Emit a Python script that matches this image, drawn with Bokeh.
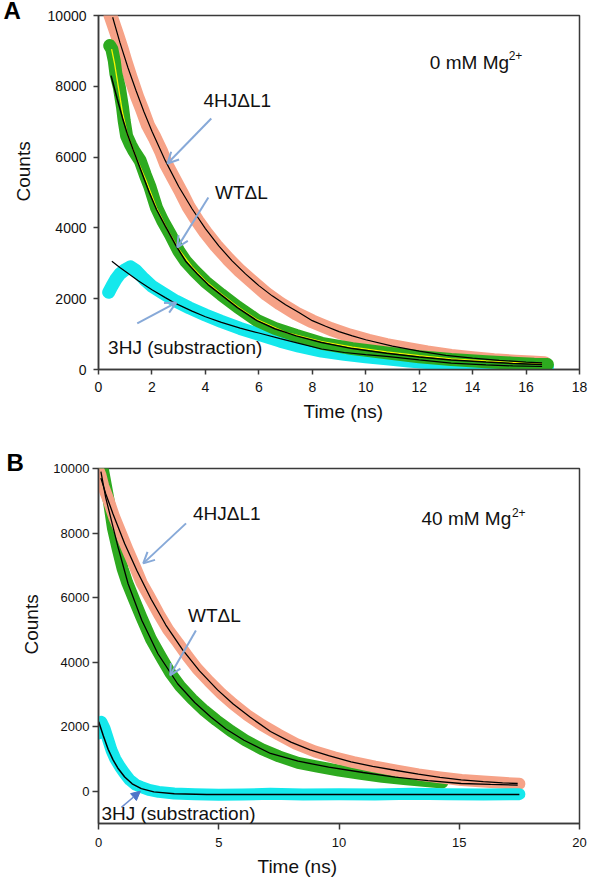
from bokeh.plotting import figure
from bokeh.models import Range1d, Label, Arrow, OpenHead, NormalHead, FixedTicker, Title
from bokeh.layouts import column
from bokeh.embed import file_html
from bokeh.resources import INLINE

FONT = "Liberation Sans"

# ---------------- Panel A (0 mM Mg2+) ----------------
a_4hj_t = [0.45, 0.55, 0.7, 0.85, 1.0, 1.2, 1.45, 1.63, 1.85, 2.1, 2.35, 2.53, 2.8, 3.1, 3.38, 3.7,
           4.0, 4.4, 4.84, 5.3, 5.8, 6.29, 6.8, 7.4, 8.0, 8.7, 9.4, 10.1, 10.78, 11.5, 12.3, 13.2,
           14.0, 14.8, 15.6, 16.2, 16.7]
a_4hj_c = [10000, 9780, 9450, 9100, 8720, 8250, 7700, 7350, 6900, 6550, 6150, 5800, 5420, 5000, 4580, 4200,
           3880, 3500, 3130, 2780, 2450, 2130, 1860, 1580, 1360, 1140, 960, 810, 690, 590, 480, 380,
           320, 260, 220, 200, 180]
a_4hj_fit_t = [0.53, 0.8, 1.1, 1.4, 1.7, 2.0, 2.5, 3.0, 3.5, 4.0, 4.5, 5.0, 5.5, 6.0, 6.5, 7.0, 7.5,
               8.0, 8.5, 9.0, 9.5, 10.0, 11.0, 12.0, 13.0, 14.0, 15.0, 16.0, 16.6]
a_4hj_fit_c = [9950, 9240, 8530, 7890, 7280, 6730, 5900, 5170, 4540, 3980, 3490, 3070, 2700, 2370, 2080, 1830, 1610,
               1380, 1220, 1070, 950, 840, 660, 520, 400, 320, 260, 210, 185]

a_wt_t = [0.42, 0.5, 0.59, 0.65, 0.78, 0.9, 0.96, 1.05, 1.2, 1.32, 1.56, 1.75, 1.93, 2.17, 2.4, 2.7, 3.0,
          3.26, 3.6, 4.0, 4.59, 5.2, 5.93, 6.6, 7.4, 8.35, 9.5, 10.78, 12.0, 13.2, 14.5, 15.5, 16.3, 16.8]
a_wt_c = [9150, 9050, 8720, 8360, 7970, 7400, 7030, 6600, 6350, 6180, 5900, 5500, 5150, 4570, 4200, 3800, 3350,
          3060, 2780, 2480, 2120, 1770, 1390, 1160, 960, 740, 590, 470, 360, 280, 220, 180, 150, 140]
a_wt_fit_t = [0.47, 0.7, 0.9, 1.08, 1.3, 1.6, 1.9, 2.17, 2.5, 2.9, 3.26, 3.7, 4.1, 4.59, 5.2, 5.93, 6.6,
              7.4, 8.35, 9.5, 10.78, 12.0, 13.2, 14.5, 15.5, 16.6]
a_wt_fit_c = [8300, 7650, 7100, 6650, 6200, 5600, 5000, 4520, 4050, 3500, 3060, 2700, 2400, 2110, 1750, 1380, 1150,
              950, 760, 590, 460, 350, 270, 210, 170, 140]
a_wt_smooth_t = [0.49, 0.6, 0.75, 0.9, 1.08, 1.4, 1.8, 2.17, 2.6, 3.0, 3.5, 4.0, 4.59, 5.3, 5.93, 7.0, 8.35,
                 9.5, 10.78, 12.0, 13.2, 14.5, 15.5, 16.6]
a_wt_smooth_c = [9050, 8650, 7950, 7250, 6650, 6000, 5300, 4560, 3920, 3400, 2900, 2500, 2130, 1720, 1410, 1050, 790,
                 630, 500, 390, 300, 240, 200, 160]

a_3hj_t = [0.38, 0.5, 0.65, 0.8, 1.0, 1.2, 1.4, 1.7, 2.0, 2.4, 2.9, 3.4, 4.0, 4.59, 5.3, 6.05, 6.8, 7.5,
           8.35, 9.2, 10.0, 10.78, 11.6, 12.4, 13.2, 14.2, 15.2, 16.0, 16.8]
a_3hj_c = [2180, 2350, 2550, 2700, 2820, 2900, 2800, 2560, 2350, 2160, 1930, 1740, 1540, 1360, 1160, 980, 800, 660,
           520, 430, 360, 300, 240, 190, 150, 120, 100, 80, 70]
a_3hj_fit_t = [0.5, 0.8, 1.1, 1.5, 2.0, 2.5, 2.9, 3.5, 4.0, 4.6, 5.3, 6.0, 6.8, 7.5, 8.35, 9.2, 10.0, 10.78,
               12.0, 13.2, 14.5, 15.5, 16.6]
a_3hj_fit_c = [3060, 2880, 2720, 2500, 2250, 2030, 1860, 1650, 1490, 1330, 1170, 1030, 870, 740, 580, 480, 420, 370,
               270, 180, 130, 100, 85]

a_xticks = [0, 2, 4, 6, 8, 10, 12, 14, 16, 18]
a_yticks = [0, 2000, 4000, 6000, 8000, 10000]

# ---------------- Panel B (40 mM Mg2+) ----------------
b_4hj_t = [0.0, 0.08, 0.2, 0.4, 0.65, 0.9, 1.2, 1.5, 1.8, 2.1, 2.5, 2.9, 3.3, 3.7, 4.1, 4.6, 5.1, 5.6, 6.2,
           6.8, 7.5, 8.2, 9.0, 9.8, 10.6, 11.5, 12.4, 13.3, 14.2, 15.1, 16.0, 16.8, 17.5]
b_4hj_c = [9950, 9800, 9450, 9050, 8500, 8050, 7500, 6980, 6450, 6050, 5500, 5000, 4600, 4180, 3800, 3400, 3030,
           2700, 2350, 2050, 1750, 1470, 1230, 1050, 900, 760, 640, 520, 430, 350, 300, 260, 230]
b_4hj_fit_t = [0.1, 0.3, 0.6, 1.09, 1.6, 2.19, 2.8, 3.5, 4.2, 4.95, 5.6, 6.3, 7.15, 8.0, 8.8, 9.57, 10.5,
               11.4, 12.33, 13.3, 14.2, 15.08, 16.0, 16.8, 17.43]
b_4hj_fit_c = [9700, 9220, 8600, 7670, 6830, 5950, 5150, 4380, 3730, 3140, 2700, 2300, 1850, 1520, 1280, 1100, 910,
               770, 650, 530, 430, 350, 300, 260, 240]

b_wt_t = [0.05, 0.19, 0.3, 0.45, 0.6, 0.8, 1.0, 1.2, 1.5, 1.78, 2.19, 2.6, 3.0, 3.4, 3.9, 4.4, 4.9, 5.5, 6.1,
          6.8, 7.5, 8.3, 9.1, 10.0, 10.9, 11.8, 12.7, 13.5, 14.3]
b_wt_c = [9800, 9940, 9500, 8900, 8150, 7500, 6900, 6450, 5900, 5400, 4700, 4160, 3650, 3250, 2850, 2500, 2200,
          1870, 1580, 1300, 1080, 880, 760, 640, 540, 450, 380, 320, 270]
b_wt_fit_t = [0.1, 0.3, 0.5, 0.8, 1.23, 1.8, 2.47, 3.29, 4.0, 4.67, 5.3, 6.05, 7.15, 8.3, 9.57, 11.0, 12.33,
              13.7, 15.08, 16.3, 17.43]
b_wt_fit_c = [9900, 9100, 8500, 7600, 6430, 5300, 4260, 3330, 2750, 2300, 1930, 1580, 1170, 930, 750, 580, 440,
              330, 240, 210, 190]

b_3hj_t = [0.0, 0.12, 0.25, 0.4, 0.54, 0.7, 0.9, 1.09, 1.3, 1.55, 1.78, 2.1, 2.5, 3.15, 4.0, 5.0, 6.0, 7.15,
           8.5, 10.0, 11.5, 13.0, 14.5, 16.0, 17.5]
b_3hj_c = [1790, 2150, 1950, 1600, 1270, 1000, 750, 550, 350, 200, 130, 40, -20, -70, -90, -110, -100, -80,
           -100, -90, -100, -80, -90, -100, -90]
b_3hj_fit_t = [0.01, 0.2, 0.4, 0.6, 0.8, 1.09, 1.4, 1.78, 2.3, 3.15, 4.5, 17.5]
b_3hj_fit_c = [2150, 1720, 1300, 980, 720, 440, 230, 80, -20, -80, -100, -100]

b_xticks = [0, 5, 10, 15, 20]
b_yticks = [0, 2000, 4000, 6000, 8000, 10000]

SALMON = "#F6A287"
GREEN = "#2DAA1F"
CYAN = "#14E8EC"
YELLOW = "#F5F500"
ARROW = "#87A9D8"


def base_fig(width, height, xr, yr, xticks, yticks, borders, tick_size, tick_out, sx, sy):
    p = figure(width=width, height=height, x_range=Range1d(*xr), y_range=Range1d(*yr),
               output_backend="svg", toolbar_location=None,
               min_border_left=borders[0], min_border_right=borders[1],
               min_border_top=borders[2], min_border_bottom=borders[3])
    p.xgrid.visible = False
    p.ygrid.visible = False
    p.outline_line_color = "#3a3a3a"
    p.outline_line_width = 1.5
    p.background_fill_color = "white"
    p.border_fill_color = "white"
    p.xaxis.ticker = FixedTicker(ticks=xticks)
    p.yaxis.ticker = FixedTicker(ticks=yticks)
    for ax in (p.xaxis[0], p.yaxis[0]):
        ax.axis_line_color = "#3a3a3a"
        ax.axis_line_width = 1.5
        ax.major_tick_line_color = "#3a3a3a"
        ax.major_tick_line_width = 1.5
        ax.major_tick_in = 0
        ax.major_tick_out = tick_out
        ax.minor_tick_line_color = None
        ax.major_label_text_font = FONT
        ax.major_label_text_color = "#111111"
    p.xaxis.major_label_text_font_size = tick_size[0]
    p.yaxis.major_label_text_font_size = tick_size[1]
    p.xaxis.major_label_standoff = sx
    p.yaxis.major_label_standoff = sy
    return p


def add_label(p, x, y, text, size="19px"):
    p.add_layout(Label(x=x, y=y, text=text, text_font=FONT, text_font_size=size,
                       text_align="left", text_baseline="middle", text_color="#111111"))


def add_title(p, text, side, offset, standoff):
    p.add_layout(Title(text=text, align="left", offset=offset, standoff=standoff,
                       text_font=FONT, text_font_size="19px", text_font_style="normal",
                       text_color="#111111"), side)


def add_letter(p, text, offset, standoff):
    p.add_layout(Title(text=text, align="left", offset=offset, standoff=standoff,
                       vertical_align="bottom", text_font=FONT, text_font_size="24px",
                       text_font_style="bold", text_color="black"), "above")


def add_arrow(p, x0, y0, x1, y1, filled=False):
    if filled:
        head = NormalHead(size=9, fill_color="#4E74C8", line_color="#4E74C8")
        col, w = "#6E8FD0", 1.5
    else:
        head = OpenHead(size=11, line_color=ARROW, line_width=2)
        col, w = ARROW, 2
    p.add_layout(Arrow(end=head, x_start=x0, y_start=y0, x_end=x1, y_end=y1,
                       line_color=col, line_width=w))


# ---------- Figure A ----------
pa = base_fig(600, 428, (0, 18), (0, 10000), a_xticks, a_yticks,
              (97, 8, 15, 59), ("14px", "14px"), 5, 7, 7)

pa.line(a_4hj_t, a_4hj_c, line_color=SALMON, line_width=14, line_join="round", line_cap="round")
pa.line(a_3hj_t, a_3hj_c, line_color=CYAN, line_width=13, line_join="round", line_cap="round")
pa.line(a_wt_t, a_wt_c, line_color=GREEN, line_width=13, line_join="round", line_cap="round")
pa.line(a_wt_smooth_t, a_wt_smooth_c, line_color=YELLOW, line_width=1.3)
pa.line(a_4hj_fit_t, a_4hj_fit_c, line_color="black", line_width=1.2)
pa.line(a_wt_fit_t, a_wt_fit_c, line_color="black", line_width=1.5)
pa.line(a_3hj_fit_t, a_3hj_fit_c, line_color="black", line_width=1.2)

add_arrow(pa, 4.22, 7090, 2.58, 5820)
add_arrow(pa, 4.11, 4860, 2.95, 3450)
add_arrow(pa, 1.45, 1300, 2.91, 1890)

add_label(pa, 3.93, 7600, "4HJ\u0394L1")
add_label(pa, 4.36, 5000, "WT\u0394L")
add_label(pa, 0.36, 620, "3HJ (substraction)")
add_label(pa, 12.4, 8670, "0 mM Mg")
add_label(pa, 15.35, 8870, "2+", size="12px")
add_title(pa, "Counts", "left", 168, 21)
add_title(pa, "Time (ns)", "below", 205, 9)
add_letter(pa, "A", -95, -17)

# ---------- Figure B ----------
pb = base_fig(600, 454, (0, 20), (-1000, 10000), b_xticks, b_yticks,
              (95, 21, 40, 59), ("13px", "13px"), 6, 8, 3)

pb.line(b_wt_t, b_wt_c, line_color=GREEN, line_width=12, line_join="round", line_cap="round")
pb.line(b_4hj_t, b_4hj_c, line_color=SALMON, line_width=12, line_join="round", line_cap="round")
pb.line(b_3hj_t, b_3hj_c, line_color=CYAN, line_width=12, line_join="round", line_cap="round")
pb.line(b_4hj_fit_t, b_4hj_fit_c, line_color="black", line_width=1.3)
pb.line(b_wt_fit_t, b_wt_fit_c, line_color="black", line_width=1.3)
pb.line(b_3hj_fit_t, b_3hj_fit_c, line_color="black", line_width=1.5)

add_arrow(pb, 3.64, 8300, 1.86, 7060)
add_arrow(pb, 4.05, 4980, 2.98, 3590)
add_arrow(pb, 0.95, -500, 1.74, 0, filled=True)

add_label(pb, 3.93, 8600, "4HJ\u0394L1")
add_label(pb, 3.72, 5450, "WT\u0394L")
add_label(pb, 0.12, -680, "3HJ (substraction)")
add_label(pb, 13.43, 8450, "40 mM Mg")
add_label(pb, 17.19, 8640, "2+", size="12px")
add_title(pb, "Counts", "left", 169, 18)
add_title(pb, "Time (ns)", "below", 159, 9)
add_letter(pb, "B", -92, -14)

layout = column(pa, pb, spacing=0)
open("out.html", "w").write(file_html(layout, INLINE))
